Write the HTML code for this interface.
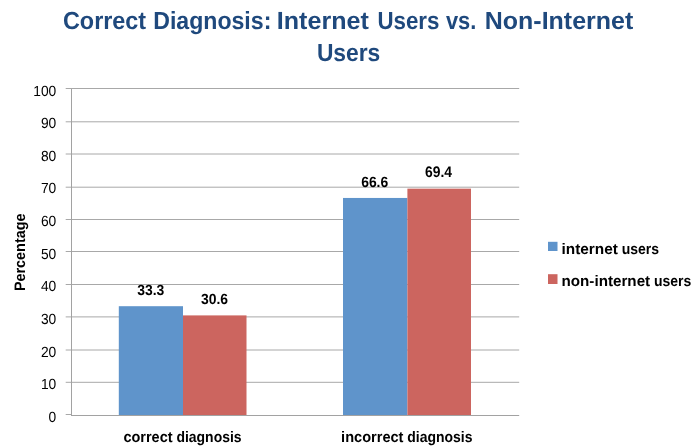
<!DOCTYPE html>
<html lang="en"><head><meta charset="utf-8"><title>Correct Diagnosis: Internet Users vs. Non-Internet Users</title>
<style>
html,body{margin:0;padding:0;background:#fff;}
body{width:700px;height:448px;overflow:hidden;}
svg{display:block;}
text{font-family:"Liberation Sans",sans-serif;fill:#000;white-space:pre;text-rendering:geometricPrecision;}
.b{font-weight:bold;}
.t{font-weight:bold;fill:#1F497D;}
</style></head><body>
<svg width="700" height="448" viewBox="0 0 700 448">
<rect width="700" height="448" fill="#fff"/>
<line x1="65.7" x2="71" y1="414.5" y2="414.5" stroke="#a8a8a8" stroke-width="1"/>
<line x1="65.7" x2="519.2" y1="382.3" y2="382.3" stroke="#a8a8a8" stroke-width="1"/>
<line x1="65.7" x2="519.2" y1="350.0" y2="350.0" stroke="#a8a8a8" stroke-width="1"/>
<line x1="65.7" x2="519.2" y1="316.9" y2="316.9" stroke="#a8a8a8" stroke-width="1"/>
<line x1="65.7" x2="519.2" y1="284.5" y2="284.5" stroke="#a8a8a8" stroke-width="1"/>
<line x1="65.7" x2="519.2" y1="251.5" y2="251.5" stroke="#a8a8a8" stroke-width="1"/>
<line x1="65.7" x2="519.2" y1="219.5" y2="219.5" stroke="#a8a8a8" stroke-width="1"/>
<line x1="65.7" x2="519.2" y1="187.2" y2="187.2" stroke="#a8a8a8" stroke-width="1"/>
<line x1="65.7" x2="519.2" y1="154.0" y2="154.0" stroke="#a8a8a8" stroke-width="1"/>
<line x1="65.7" x2="519.2" y1="121.8" y2="121.8" stroke="#a8a8a8" stroke-width="1"/>
<line x1="65.7" x2="519.2" y1="88.5" y2="88.5" stroke="#a8a8a8" stroke-width="1"/>
<rect x="118.8" y="306.2" width="64.20" height="108.80" fill="#5F94CB"/>
<rect x="183.0" y="315.4" width="63.50" height="99.60" fill="#CC655F"/>
<rect x="343.0" y="197.95" width="64.40" height="217.05" fill="#5F94CB"/>
<rect x="407.4" y="188.65" width="63.60" height="226.35" fill="#CC655F"/>
<line x1="71.5" x2="71.5" y1="89" y2="416" stroke="#a2a2a2" stroke-width="1"/>
<line x1="71" x2="519.2" y1="415.5" y2="415.5" stroke="#a2a2a2" stroke-width="1"/>
<text y="28.55" class="t" font-size="24.81"><tspan x="62.98" textLength="83.17" lengthAdjust="spacingAndGlyphs">Correct</tspan> <tspan x="153.19" textLength="118.15" lengthAdjust="spacingAndGlyphs">Diagnosis:</tspan> <tspan x="276.83" textLength="91.93" lengthAdjust="spacingAndGlyphs">Internet</tspan> <tspan x="377.51" textLength="61.91" lengthAdjust="spacingAndGlyphs">Users</tspan> <tspan x="445.90" textLength="30.36" lengthAdjust="spacingAndGlyphs">vs.</tspan> <tspan x="484.80" textLength="148.41" lengthAdjust="spacingAndGlyphs">Non-Internet</tspan></text>
<text x="316.90" y="60.7" class="t" font-size="24.81" textLength="63.41" lengthAdjust="spacingAndGlyphs">Users</text>
<text x="48.62" y="421.80" font-size="14.65" textLength="7.68" lengthAdjust="spacingAndGlyphs">0</text>
<text x="40.94" y="389.17" font-size="14.65" textLength="15.36" lengthAdjust="spacingAndGlyphs">10</text>
<text x="40.94" y="356.54" font-size="14.65" textLength="15.36" lengthAdjust="spacingAndGlyphs">20</text>
<text x="40.94" y="323.91" font-size="14.65" textLength="15.36" lengthAdjust="spacingAndGlyphs">30</text>
<text x="40.94" y="291.28" font-size="14.65" textLength="15.36" lengthAdjust="spacingAndGlyphs">40</text>
<text x="40.94" y="258.65" font-size="14.65" textLength="15.36" lengthAdjust="spacingAndGlyphs">50</text>
<text x="40.94" y="226.02" font-size="14.65" textLength="15.36" lengthAdjust="spacingAndGlyphs">60</text>
<text x="40.94" y="193.39" font-size="14.65" textLength="15.36" lengthAdjust="spacingAndGlyphs">70</text>
<text x="40.94" y="160.76" font-size="14.65" textLength="15.36" lengthAdjust="spacingAndGlyphs">80</text>
<text x="40.94" y="128.13" font-size="14.65" textLength="15.36" lengthAdjust="spacingAndGlyphs">90</text>
<text x="33.26" y="95.50" font-size="14.65" textLength="23.04" lengthAdjust="spacingAndGlyphs">100</text>
<text x="137.16" y="295.45" class="b" font-size="14.74" textLength="27.08" lengthAdjust="spacingAndGlyphs">33.3</text>
<text x="200.96" y="304.4" class="b" font-size="14.65" textLength="27.08" lengthAdjust="spacingAndGlyphs">30.6</text>
<text x="361.16" y="186.7" class="b" font-size="14.83" textLength="27.08" lengthAdjust="spacingAndGlyphs">66.6</text>
<text x="424.96" y="177.45" class="b" font-size="15.28" textLength="27.08" lengthAdjust="spacingAndGlyphs">69.4</text>
<text y="441.8" class="b" font-size="15.15"><tspan x="123.41" textLength="49.19" lengthAdjust="spacingAndGlyphs">correct</tspan> <tspan x="176.42" textLength="65.17" lengthAdjust="spacingAndGlyphs">diagnosis</tspan></text>
<text y="441.8" class="b" font-size="15.15"><tspan x="341.12" textLength="62.37" lengthAdjust="spacingAndGlyphs">incorrect</tspan> <tspan x="407.31" textLength="65.17" lengthAdjust="spacingAndGlyphs">diagnosis</tspan></text>
<text transform="translate(24.6,252.3) rotate(-90)" x="-38.82" y="0" class="b" font-size="15.15" textLength="77.63" lengthAdjust="spacingAndGlyphs">Percentage</text>
<rect x="548" y="241.8" width="9.5" height="9.2" fill="#5F94CB"/>
<rect x="548" y="274.2" width="9.5" height="9.8" fill="#CC655F"/>
<text y="253.7" class="b" font-size="15.15"><tspan x="561.50" textLength="56.38" lengthAdjust="spacingAndGlyphs">internet</tspan> <tspan x="621.69" textLength="37.35" lengthAdjust="spacingAndGlyphs">users</tspan></text>
<text y="285.7" class="b" font-size="15.15"><tspan x="561.50" textLength="88.68" lengthAdjust="spacingAndGlyphs">non-internet</tspan> <tspan x="653.99" textLength="37.35" lengthAdjust="spacingAndGlyphs">users</tspan></text>
</svg>
</body></html>
